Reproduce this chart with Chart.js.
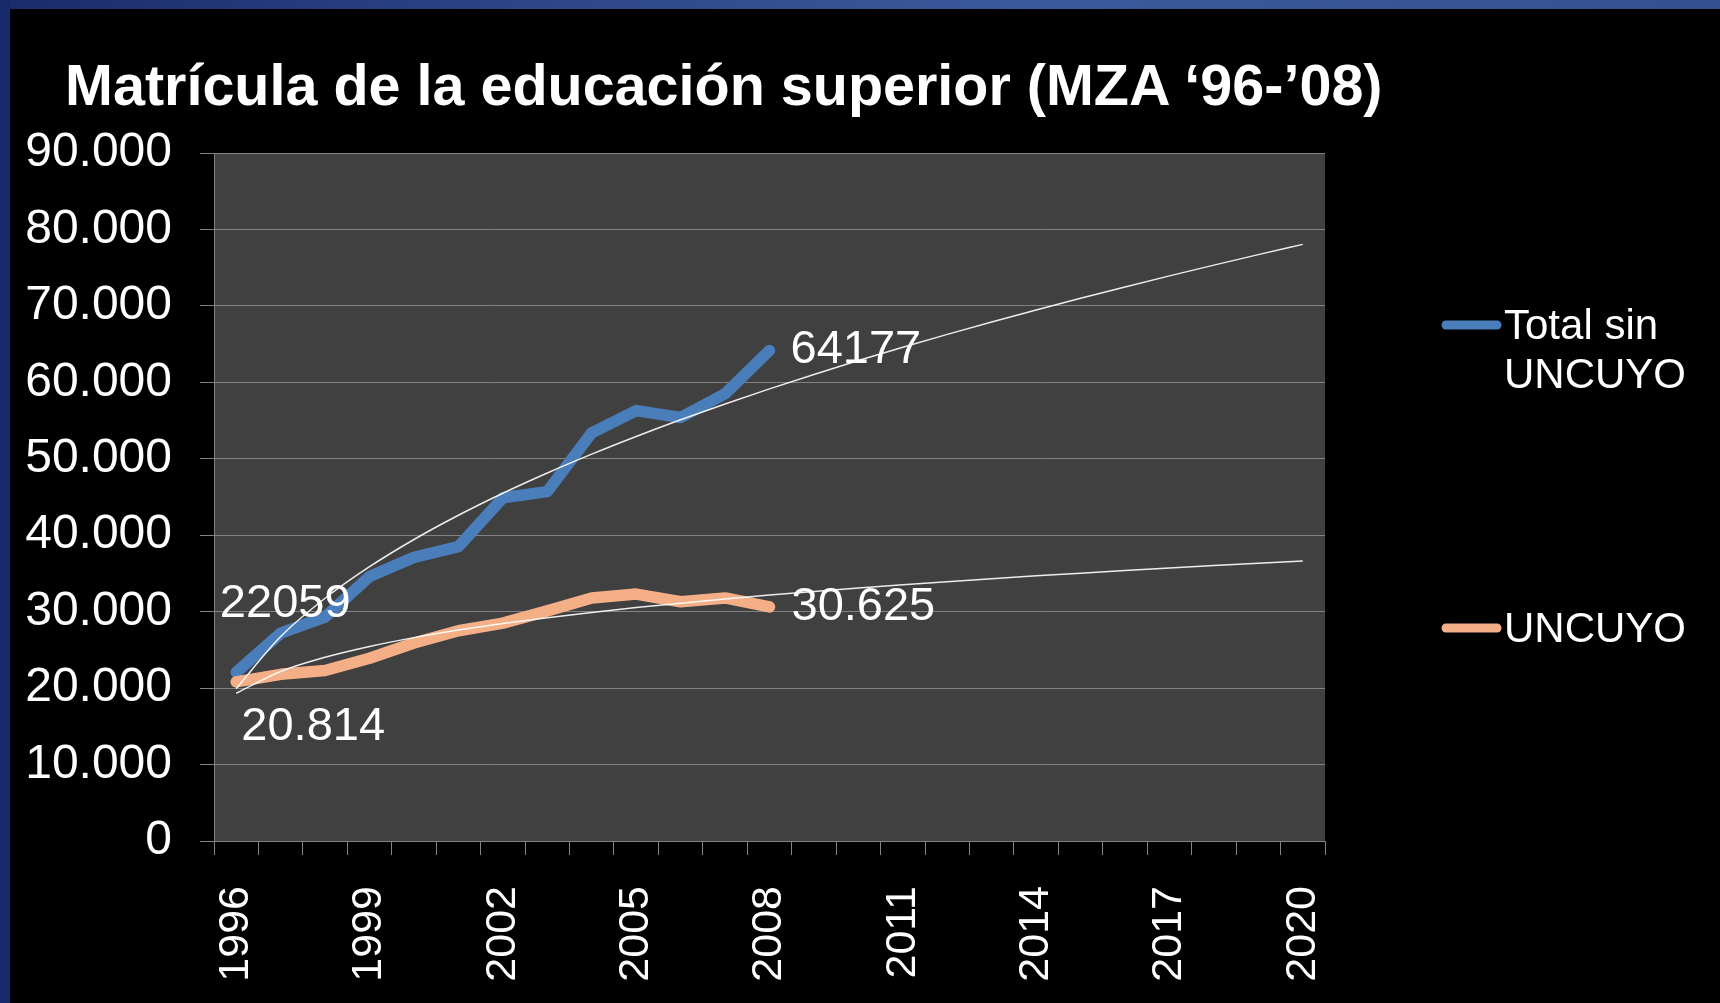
<!DOCTYPE html>
<html>
<head>
<meta charset="utf-8">
<script src="https://cdn.jsdelivr.net/npm/chart.js@4.4.1/dist/chart.umd.min.js"></script>
<style>
  html, body { margin: 0; padding: 0; background: #000; }
  #wrap { position: relative; width: 1720px; height: 1003px; overflow: hidden; background: #000; }
  #topband { position: absolute; left: 0; top: 0; width: 1720px; height: 9px;
    background: linear-gradient(to right, #1b2b6c 0%, #2c4585 30%, #3b5a9b 60%, #34518f 100%); }
  #leftband { position: absolute; left: 0; top: 0; width: 10px; height: 1003px; background: #172a6c; }
  canvas { position: absolute; left: 0; top: 0; }
  #title { position: absolute; left: 65px; top: 57px; margin: 0; white-space: nowrap;
    font-family: 'Liberation Sans', Arial, Helvetica, sans-serif; font-weight: bold;
    font-size: 57.5px; line-height: 1; color: #fff; }
</style>
</head>
<body>
<div id="wrap">
  <div id="topband"></div>
  <div id="leftband"></div>
  <canvas id="c" width="1720" height="1003"></canvas>
  <h1 id="title"></h1>
</div>
<script>
// ---- Data ----
const years = ['1996','1997','1998','1999','2000','2001','2002','2003','2004','2005','2006','2007','2008',
               '2009','2010','2011','2012','2013','2014','2015','2016','2017','2018','2019','2020'];
const totalSinUncuyo = [22059, 27200, 29300, 34600, 37100, 38500, 44900, 45700, 53400, 56300, 55400, 58500, 64177];
const uncuyo = [20814, 21800, 22300, 23900, 25900, 27500, 28500, 30100, 31800, 32300, 31300, 31800, 30625];
const yTicks = [0, 10000, 20000, 30000, 40000, 50000, 60000, 70000, 80000, 90000];
const seriesNames = ['Total sin UNCUYO', 'UNCUYO'];
const titleText = 'Matrícula de la educación superior (MZA \u201896-\u201908)';
const pointLabels = [
  { series: 0, index: 0, text: '22059' },
  { series: 1, index: 0, text: '20.814' },
  { series: 0, index: 12, text: '64177' },
  { series: 1, index: 12, text: '30.625' }
];

document.getElementById('title').textContent = titleText;

// Power trendline (least squares on ln x, ln y) as Excel does, from the data above
function powerTrend(vals, n) {
  const xs = vals.map((_, i) => Math.log(i + 1));
  const ys = vals.map(v => Math.log(v));
  const mx = xs.reduce((a, b) => a + b, 0) / xs.length;
  const my = ys.reduce((a, b) => a + b, 0) / ys.length;
  let sxy = 0, sxx = 0;
  xs.forEach((x, i) => { sxy += (x - mx) * (ys[i] - my); sxx += (x - mx) * (x - mx); });
  const p = sxy / sxx;
  const c = Math.exp(my - p * mx);
  const out = [];
  for (let i = 0; i < n; i++) out.push(c * Math.pow(i + 1, p));
  return out;
}
const trendTotal = powerTrend(totalSinUncuyo, years.length);
const trendUncuyo = powerTrend(uncuyo, years.length);

function fmtThousands(v) {
  return String(v).replace(/\B(?=(\d{3})+(?!\d))/g, '.');
}

const FONT = "'Liberation Sans', Arial, Helvetica, sans-serif";
const BLUE = '#4a7ebb';
const ORANGE = '#f5af86';
const GRID = '#828282';

const plotBg = {
  id: 'plotBg',
  beforeDraw(chart) {
    const a = chart.chartArea, ctx = chart.ctx;
    ctx.save();
    ctx.fillStyle = '#404040';
    ctx.fillRect(a.left, a.top, a.right - a.left, a.bottom - a.top);
    ctx.restore();
  }
};

const labelsPlugin = {
  id: 'pointLabels',
  afterDatasetsDraw(chart) {
    const ctx = chart.ctx;
    ctx.save();
    ctx.fillStyle = '#ffffff';
    ctx.font = '47px ' + FONT;
    ctx.textBaseline = 'middle';
    const offs = [
      { dx: 49, dy: -68, align: 'center' },
      { dx: 77, dy: 45, align: 'center' },
      { dx: 21, dy: 0, align: 'left' },
      { dx: 22, dy: 0, align: 'left' }
    ];
    pointLabels.forEach((l, k) => {
      const pt = chart.getDatasetMeta(l.series).data[l.index];
      ctx.textAlign = offs[k].align;
      ctx.fillText(l.text, pt.x + offs[k].dx, pt.y + offs[k].dy);
    });
    ctx.restore();
  }
};

const legendPlugin = {
  id: 'customLegend',
  afterDraw(chart) {
    const ctx = chart.ctx;
    ctx.save();
    ctx.lineCap = 'round';
    ctx.lineWidth = 9;
    ctx.font = '42px ' + FONT;
    ctx.fillStyle = '#ffffff';
    ctx.textAlign = 'left';
    ctx.textBaseline = 'alphabetic';
    const items = [
      { color: chart.data.datasets[0].borderColor, y: 325, lines: ['Total sin', 'UNCUYO'] },
      { color: chart.data.datasets[1].borderColor, y: 628, lines: [seriesNames[1]] }
    ];
    items.forEach(it => {
      ctx.strokeStyle = it.color;
      ctx.beginPath();
      ctx.moveTo(1446, it.y);
      ctx.lineTo(1497, it.y);
      ctx.stroke();
      it.lines.forEach((t, j) => {
        ctx.fillText(t, 1504, it.y + 14 + j * 49);
      });
    });
    ctx.restore();
  }
};

new Chart(document.getElementById('c'), {
  type: 'line',
  data: {
    labels: years,
    datasets: [
      { label: seriesNames[0], data: totalSinUncuyo, borderColor: BLUE, backgroundColor: BLUE,
        borderWidth: 11.5, pointRadius: 0, tension: 0, borderJoinStyle: 'round', borderCapStyle: 'round', order: 2 },
      { label: seriesNames[1], data: uncuyo, borderColor: ORANGE, backgroundColor: ORANGE,
        borderWidth: 11.5, pointRadius: 0, tension: 0, borderJoinStyle: 'round', borderCapStyle: 'round', order: 1 },
      { label: 'Tendencia ' + seriesNames[0], data: trendTotal, borderColor: 'rgba(255,255,255,0.9)',
        borderWidth: 1.5, pointRadius: 0, cubicInterpolationMode: 'monotone', order: 0 },
      { label: 'Tendencia ' + seriesNames[1], data: trendUncuyo, borderColor: 'rgba(255,255,255,0.9)',
        borderWidth: 1.5, pointRadius: 0, cubicInterpolationMode: 'monotone', order: 0 }
    ]
  },
  options: {
    responsive: false,
    animation: false,
    devicePixelRatio: 1,
    layout: { padding: { left: 0, right: 395, top: 153, bottom: 0 } },
    plugins: {
      legend: { display: false },
      tooltip: { enabled: false },
      title: { display: false }
    },
    scales: {
      x: {
        type: 'category',
        offset: true,
        grid: { offset: true, drawOnChartArea: false, drawTicks: true, tickLength: 14, color: GRID, lineWidth: 1 },
        border: { display: true, color: GRID, width: 1 },
        ticks: {
          autoSkip: false, minRotation: 90, maxRotation: 90, padding: 31,
          color: '#ffffff', font: { family: FONT, size: 43 },
          callback: function (v, i) { return i % 3 === 0 ? years[i] : ''; }
        },
        afterFit: function (s) { s.height = 162; }
      },
      y: {
        min: yTicks[0], max: yTicks[yTicks.length - 1],
        afterBuildTicks: function (s) { s.ticks = yTicks.map(v => ({ value: v })); },
        grid: { color: GRID, lineWidth: 1, drawTicks: true, tickLength: 14 },
        border: { display: true, color: GRID, width: 1 },
        ticks: {
          padding: 28, color: '#ffffff', font: { family: FONT, size: 48 },
          callback: function (v) { return fmtThousands(v); }
        },
        afterFit: function (s) { s.width = 214; }
      }
    }
  },
  plugins: [plotBg, labelsPlugin, legendPlugin]
});
</script>
</body>
</html>
